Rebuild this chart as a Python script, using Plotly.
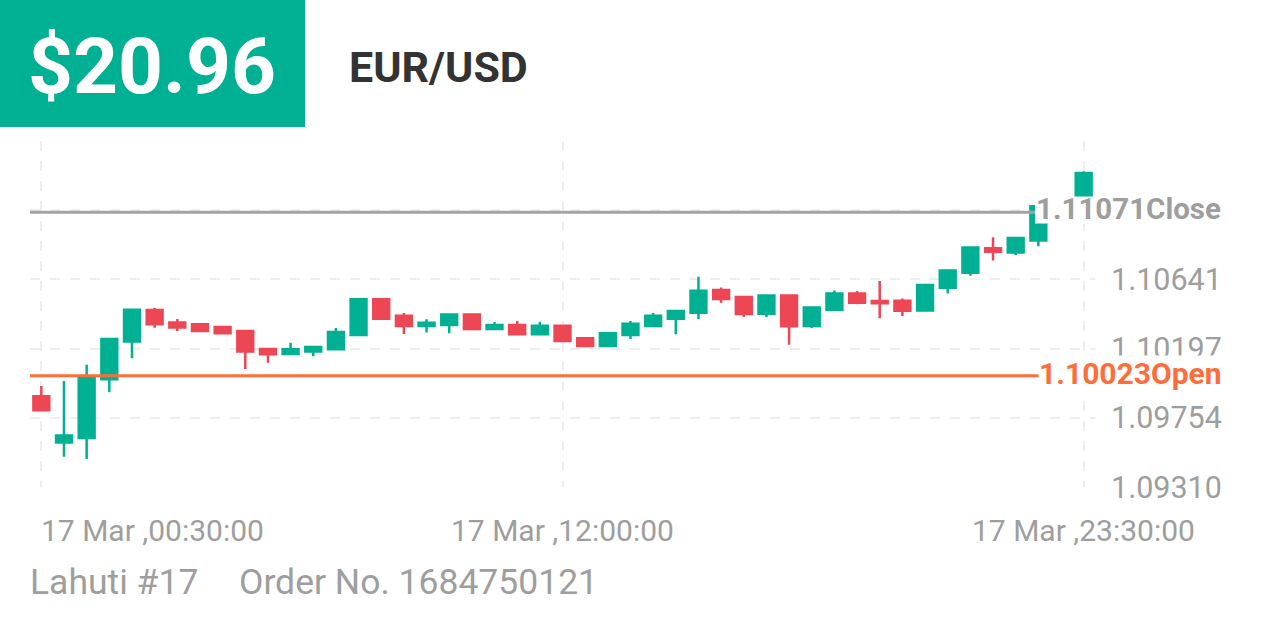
import plotly.graph_objects as go

# ---------------- data ----------------
times = ["00:30", "01:00", "01:30", "02:00", "02:30", "03:00", "03:30", "04:00",
         "04:30", "05:00", "05:30", "06:00", "06:30", "07:00", "07:30", "08:00",
         "08:30", "09:00", "09:30", "10:00", "10:30", "11:00", "11:30", "12:00",
         "12:30", "13:00", "13:30", "14:00", "14:30", "15:00", "15:30", "16:00",
         "16:30", "17:00", "17:30", "18:00", "18:30", "19:00", "19:30", "20:00",
         "20:30", "21:00", "21:30", "22:00", "22:30", "23:00", "23:30"]

open_ = [1.09892, 1.09595, 1.09623, 1.10001, 1.10242, 1.10445, 1.10365, 1.10353,
         1.10336, 1.10310, 1.10195, 1.10163, 1.10178, 1.10193, 1.10285, 1.10513,
         1.10408, 1.10342, 1.10349, 1.10415, 1.10323, 1.10349, 1.10289, 1.10344,
         1.10263, 1.10214, 1.10285, 1.10342, 1.10389, 1.10427, 1.10573, 1.10528,
         1.10421, 1.10538, 1.10342, 1.10447, 1.10551, 1.10502, 1.10504, 1.10442,
         1.10587, 1.10683, 1.10841, 1.10813, 1.10890, 1.11100, 1.11181]
high = [1.09958, 1.09990, 1.10093, 1.10262, 1.10450, 1.10459, 1.10387, 1.10355,
        1.10338, 1.10312, 1.10197, 1.10235, 1.10210, 1.10329, 1.10515, 1.10515,
        1.10425, 1.10385, 1.10417, 1.10417, 1.10368, 1.10374, 1.10370, 1.10346,
        1.10269, 1.10301, 1.10374, 1.10425, 1.10447, 1.10658, 1.10589, 1.10530,
        1.10540, 1.10540, 1.10463, 1.10570, 1.10566, 1.10630, 1.10519, 1.10607,
        1.10700, 1.10847, 1.10912, 1.10910, 1.11112, 1.11120, 1.11334]
low = [1.09800, 1.09504, 1.09489, 1.09917, 1.10135, 1.10331, 1.10310, 1.10308,
       1.10293, 1.10067, 1.10107, 1.10161, 1.10148, 1.10191, 1.10283, 1.10385,
       1.10291, 1.10301, 1.10295, 1.10321, 1.10314, 1.10287, 1.10287, 1.10244,
       1.10212, 1.10210, 1.10259, 1.10340, 1.10289, 1.10387, 1.10491, 1.10400,
       1.10400, 1.10221, 1.10329, 1.10445, 1.10481, 1.10391, 1.10406, 1.10434,
       1.10551, 1.10664, 1.10762, 1.10797, 1.10854, 1.11040, 1.11180]
close = [1.09802, 1.09640, 1.10007, 1.10259, 1.10447, 1.10353, 1.10333, 1.10310,
         1.10295, 1.10178, 1.10161, 1.10193, 1.10208, 1.10304, 1.10513, 1.10389,
         1.10342, 1.10363, 1.10415, 1.10323, 1.10349, 1.10289, 1.10344, 1.10246,
         1.10214, 1.10295, 1.10357, 1.10408, 1.10438, 1.10568, 1.10515, 1.10419,
         1.10538, 1.10340, 1.10461, 1.10551, 1.10491, 1.10488, 1.10440, 1.10605,
         1.10698, 1.10845, 1.10818, 1.10907, 1.11110, 1.11071, 1.11323]

y_tick_vals = [1.09310, 1.09754, 1.10197, 1.10641, 1.11084, 1.11528]
y_tick_text = ["1.09310", "1.09754", "1.10197", "1.10641", "", ""]

x_label_idx = [0, 23, 46]
x_label_text = ["17 Mar ,00:30:00", "17 Mar ,12:00:00", "17 Mar ,23:30:00"]

open_price = 1.10023
close_price = 1.11071
profit_text = "$20.96"
symbol_text = "EUR/USD"
footer_left = "Lahuti #17"
footer_right = "Order No. 1684750121"

# ---------------- style ----------------
GREEN = "#00B092"
RED = "#ED4654"
ORANGE = "#FF6E3A"
GRAY = "#9E9E9E"
LINE_GRAY = "#A3A3A3"
GRID = "#EEEEEE"
FONT = "Roboto"

W, H = 1266, 633
PL, PR, PT, PB = 30, 1095, 141, 487


def xp(px):
    return (px - PL) / (PR - PL)


def yp(py):
    return (PB - py) / (PB - PT)


x = list(range(len(times)))

fig = go.Figure(go.Candlestick(
    x=x, open=open_, high=high, low=low, close=close,
    increasing=dict(line=dict(color=GREEN, width=2.5), fillcolor=GREEN),
    decreasing=dict(line=dict(color=RED, width=2.5), fillcolor=RED),
    whiskerwidth=0, hoverinfo="skip", showlegend=False,
))

shapes = [
    # header box
    dict(type="rect", xref="paper", yref="paper", x0=xp(0), x1=xp(305),
         y0=yp(127), y1=yp(0), fillcolor=GREEN, line=dict(width=0), layer="above"),
    # open / close lines
    dict(type="line", xref="paper", yref="y", x0=0, x1=xp(1040),
         y0=open_price, y1=open_price, line=dict(color=ORANGE, width=3), layer="above"),
    dict(type="line", xref="paper", yref="y", x0=0, x1=xp(1035),
         y0=close_price, y1=close_price, line=dict(color=LINE_GRAY, width=3), layer="above"),
    # label backgrounds
    dict(type="rect", xref="paper", yref="y", x0=xp(1035), x1=1.0,
         y0=close_price - 0.00072, y1=close_price + 0.00090,
         fillcolor="white", line=dict(width=0), layer="above"),
    dict(type="rect", xref="paper", yref="y", x0=xp(1040), x1=1.0,
         y0=open_price - 0.00080, y1=open_price + 0.00085,
         fillcolor="white", line=dict(width=0), layer="above"),
]

annotations = [
    dict(text=profit_text, xref="paper", yref="paper", x=xp(26), y=yp(66),
         xanchor="left", yanchor="middle", showarrow=False,
         font=dict(family=FONT, size=78.5, color="white", weight="bold")),
    dict(text=symbol_text, xref="paper", yref="paper", x=xp(347), y=yp(67),
         xanchor="left", yanchor="middle", showarrow=False,
         font=dict(family=FONT, size=43, color="#333333", weight="bold")),
    dict(text=f"{close_price:.5f}Close", xref="paper", yref="y", x=xp(1223), y=close_price,
         xanchor="right", yanchor="middle", showarrow=False, yshift=3,
         font=dict(family=FONT, size=29.5, color=GRAY, weight="bold")),
    dict(text=f"{open_price:.5f}Open", xref="paper", yref="y", x=xp(1223), y=open_price,
         xanchor="right", yanchor="middle", showarrow=False, yshift=2,
         bgcolor="white", borderpad=0,
         font=dict(family=FONT, size=30, color=ORANGE, weight="bold")),
    dict(text=footer_left, xref="paper", yref="paper", x=xp(28), y=yp(582),
         xanchor="left", yanchor="middle", showarrow=False,
         font=dict(family=FONT, size=35.5, color=GRAY)),
    dict(text=footer_right, xref="paper", yref="paper", x=xp(237), y=yp(582),
         xanchor="left", yanchor="middle", showarrow=False,
         font=dict(family=FONT, size=35.5, color=GRAY)),
]
anchors = ["left", "center", "center"]
for idx, txt, anc in zip(x_label_idx, x_label_text, anchors):
    annotations.append(dict(text=txt, xref="x", yref="paper", x=x[idx], y=yp(530),
                            xanchor=anc, yanchor="middle", showarrow=False,
                            xshift=-2 if anc == "left" else 0,
                            font=dict(family=FONT, size=30, color=GRAY)))

fig.update_layout(
    width=W, height=H,
    margin=dict(l=PL, r=W - PR, t=PT, b=H - PB, pad=0),
    paper_bgcolor="white", plot_bgcolor="white",
    font=dict(family=FONT),
    showlegend=False,
    boxgap=0.3, boxgroupgap=0.0,
    shapes=shapes, annotations=annotations,
    xaxis=dict(range=[-0.5, len(times) - 0.5], tickvals=[x[i] for i in x_label_idx],
               showticklabels=False, ticks="", showgrid=True, gridcolor=GRID,
               gridwidth=2, griddash="10px,10px", zeroline=False, showline=False,
               rangeslider=dict(visible=False), fixedrange=True),
    yaxis=dict(side="right", range=[1.093095, 1.115285], tickvals=y_tick_vals,
               ticktext=y_tick_text, showgrid=True, gridcolor=GRID, gridwidth=2,
               griddash="10px,10px", zeroline=False, showline=False, ticks="",
               ticklabelstandoff=15,
               tickfont=dict(family=FONT, size=30.5, color=GRAY), fixedrange=True),
)

fig.write_html("out.html", config={"displayModeBar": False})
